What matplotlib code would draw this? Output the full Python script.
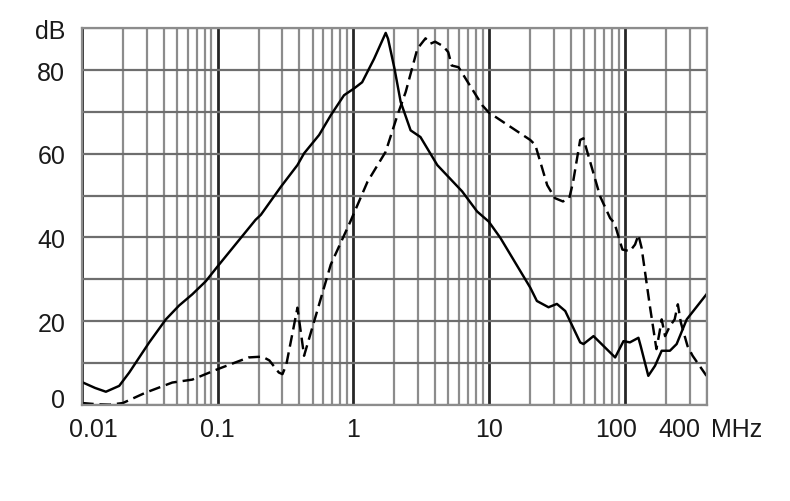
import matplotlib
matplotlib.use("Agg")
import matplotlib.pyplot as plt
import matplotlib.transforms as mtransforms
from matplotlib.ticker import FixedLocator, NullFormatter

# ---- data ----
solid_x = [0.01, 0.0125, 0.015, 0.0188, 0.0223, 0.0313, 0.0415, 0.0519, 0.065, 0.0816,
           0.1, 0.19, 0.208, 0.292, 0.387, 0.433, 0.559, 0.681, 0.853, 1.01,
           1.16, 1.42, 1.73, 1.8, 2.01, 2.23, 2.64, 3.12, 4.15, 6.33,
           8.16, 9.93, 12.1, 20.1, 22.5, 27.4, 31.6, 36.4, 46.9, 49.6,
           58.8, 84.9, 97.8, 109, 126, 131, 149, 167, 187, 215,
           241, 286, 400]
solid_y = [5.4, 4.0, 3.1, 4.5, 7.7, 14.9, 20.4, 23.7, 26.4, 29.5,
           33.1, 44.2, 45.4, 52.1, 57.3, 60.1, 64.5, 69.2, 74.0, 75.6,
           77.1, 82.7, 88.9, 87.5, 80.3, 72.4, 65.6, 64.0, 57.3, 51.0,
           46.2, 43.8, 39.9, 28.0, 24.8, 23.3, 24.1, 22.4, 14.9, 14.5,
           16.4, 11.3, 15.2, 14.9, 16.0, 14.0, 6.9, 9.3, 12.9, 12.9,
           14.5, 20.4, 26.4]

dash_x = [0.01, 0.013, 0.016, 0.02, 0.0295, 0.0463, 0.065, 0.1, 0.169, 0.213,
          0.24, 0.282, 0.30, 0.32, 0.387, 0.433, 0.681, 0.95, 1.27, 1.73,
          2.11, 2.43, 2.96, 3.40, 3.68, 4.0, 4.6, 5.0, 5.3, 5.95,
          8.9, 9.93, 20.1, 21.9, 26.8, 30.5, 35, 39, 41.6, 46.9,
          49.6, 52, 65.8, 78, 84, 96, 109, 119, 126, 133,
          153, 171, 180, 187, 198, 215, 233, 246, 259, 290,
          316, 400]
dash_y = [0.4, 0.1, 0.0, 0.4, 2.9, 5.3, 6.0, 8.5, 11.3, 11.5,
          10.6, 7.7, 7.3, 9.5, 23.2, 11.7, 33.5, 43.8, 53.3, 60.5,
          69.2, 74.8, 85.1, 87.6, 86.3, 86.8, 85.7, 84.3, 81.1, 80.7,
          71.6, 69.9, 63.3, 62.1, 52.5, 49.4, 48.6, 49.4, 53.3, 63.3,
          63.7, 61.3, 49.8, 44.6, 43.4, 37.1, 36.7, 38.3, 40.6, 37.5,
          23.6, 13.3, 17.2, 20.4, 16.4, 18.8, 20.4, 24.0, 19.6, 14.0,
          11.7, 6.9]

x_major = [0.01, 0.1, 1, 10, 100]
x_major_labels = ["0.01", "0.1", "1", "10", "100"]
x_minor = [m * d for d in [0.01, 0.1, 1, 10] for m in range(2, 10)] + [200, 300, 400]
y_ticks = [0, 10, 20, 30, 40, 50, 60, 70, 80, 90]
y_labels = ["0", "", "20", "", "40", "", "60", "", "80", "dB"]

# ---- plot ----
plt.rcParams['font.family'] = ['Liberation Sans', 'DejaVu Sans']
fig = plt.figure(figsize=(7.90, 5.02), dpi=100)
ax = fig.add_axes([82 / 790, 1 - 405.7 / 502, (706.5 - 82) / 790, (405.7 - 29.3) / 502])

ax.set_xscale('log')
ax.set_xlim(0.01, 400)
ax.set_ylim(0, 90)

grid_gray = '#8c8c8c'
ax.xaxis.set_major_locator(FixedLocator(x_major))
ax.xaxis.set_minor_locator(FixedLocator(x_minor))
ax.xaxis.set_minor_formatter(NullFormatter())
ax.set_xticklabels(x_major_labels)
ax.set_yticks(y_ticks)
ax.set_yticklabels(y_labels)

ax.grid(which='minor', axis='x', color=grid_gray, lw=1.6)
ax.grid(which='major', axis='x', color='#262626', lw=2.0)
ax.grid(which='major', axis='y', color='#6e6e6e', lw=1.6)
ax.set_axisbelow(True)

for s in ax.spines.values():
    s.set_color(grid_gray)
    s.set_linewidth(1.6)

ax.tick_params(which='both', length=0)
ax.tick_params(axis='x', pad=9, labelsize=18, labelcolor='#1a1a1a')
ax.tick_params(axis='y', pad=12, labelsize=18, labelcolor='#1a1a1a')

ax.plot(solid_x, solid_y, color='black', lw=1.75, solid_joinstyle='round')
ax.plot(dash_x, dash_y, color='black', lw=1.75, dashes=(4.8, 2.4))

# shift a few tick labels like in the reference
labels = ax.get_xticklabels()
offs = {"0.01": 11, "100": -9}
for lab in labels:
    t = lab.get_text()
    if t in offs:
        lab.set_transform(lab.get_transform() +
                          mtransforms.ScaledTranslation(offs[t] / 100, 0, fig.dpi_scale_trans))
ylabs = ax.get_yticklabels()
for lab in ylabs:
    if lab.get_text() == "0":
        lab.set_transform(lab.get_transform() +
                          mtransforms.ScaledTranslation(0, 7 / 100, fig.dpi_scale_trans))

ax.annotate("400", xy=(400, 0), xycoords=('data', 'axes fraction'),
            xytext=(-6, -9 * 100 / 72), textcoords='offset pixels',
            ha='right', va='top', fontsize=18, color='#1a1a1a')
ax.annotate("MHz", xy=(400, 0), xycoords=('data', 'axes fraction'),
            xytext=(4, -9 * 100 / 72), textcoords='offset pixels',
            ha='left', va='top', fontsize=18, color='#1a1a1a')

fig.savefig("out.png", dpi=100)
